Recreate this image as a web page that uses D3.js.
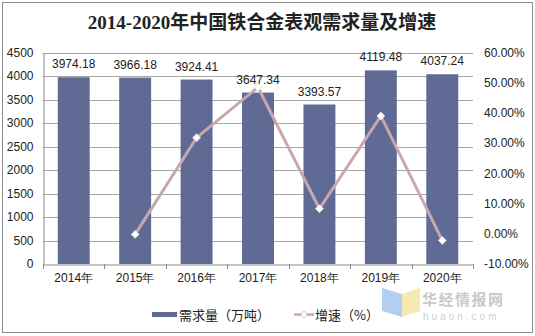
<!DOCTYPE html>
<html><head><meta charset="utf-8">
<script src="https://cdn.jsdelivr.net/npm/d3@7"></script>
<style>body{margin:0;background:#fff}svg{display:block}</style>
</head><body>
<script>
const years = ["2014年","2015年","2016年","2017年","2018年","2019年","2020年"];
const demand = [3974.18,3966.18,3924.41,3647.34,3393.57,4119.48,4037.24];
const growth = [null,-0.2,31.8,48.5,8.3,39.0,-2.2];
const leftTicks = [0,500,1000,1500,2000,2500,3000,3500,4000,4500];
const rightTicks = [-10,0,10,20,30,40,50,60];
const title = "2014-2020年中国铁合金表观需求量及增速";
const legendLabels = ["需求量（万吨）","增速（%）"];

const W=535,H=336;
const svg=d3.select("body").append("svg").attr("width",W).attr("height",H);
svg.append("rect").attr("x",2.5).attr("y",2.5).attr("width",530).attr("height",330)
  .attr("fill","#fff").attr("stroke","#8c8c8c").attr("stroke-width",1);

const x0=43,x1=473,yTop=52.5,yBot=264;
const x=d3.scaleBand().domain(years).range([x0,x1]).paddingInner(0.48).paddingOuter(0.24);
const xb=d3.scaleBand().domain(years).range([x0,x1]);
const yL=d3.scaleLinear().domain([0,4500]).range([yBot,yTop]);
const yR=d3.scaleLinear().domain([-10,60]).range([yBot,yTop]);

// gridlines
svg.append("g").selectAll("line").data(leftTicks.filter(d=>d>0)).join("line")
  .attr("x1",x0).attr("x2",x1).attr("y1",d=>Math.round(yL(d))+0.5).attr("y2",d=>Math.round(yL(d))+0.5)
  .attr("stroke","#a6a6a6").attr("stroke-width",1);

// left axis
const font="'Liberation Sans',Arial,sans-serif";
const ga=svg.append("g").attr("transform",`translate(${x0+0.5},0)`)
  .call(d3.axisLeft(yL).tickValues(leftTicks).tickSize(0).tickPadding(10).tickFormat(d3.format("d")));
ga.select(".domain").attr("stroke","#8c8c8c");
ga.selectAll("text").attr("font-family",font).attr("font-size",12).attr("fill","#222");

// right axis labels
const gr=svg.append("g").attr("transform",`translate(${x1},0)`)
  .call(d3.axisRight(yR).tickValues(rightTicks).tickSize(0).tickPadding(11).tickFormat(d=>d.toFixed(2)+"%"));
gr.select(".domain").remove();
gr.selectAll("text").attr("font-family",font).attr("font-size",12).attr("fill","#222");

// bars
svg.append("g").selectAll("rect").data(demand).join("rect")
  .attr("x",(d,i)=>x(years[i])).attr("width",x.bandwidth())
  .attr("y",d=>yL(d)).attr("height",d=>yL(0)-yL(d)).attr("fill","#5f6b95");

// bottom axis
const gb=svg.append("g").attr("transform",`translate(0,${yBot+0.5})`)
  .call(d3.axisBottom(xb).tickSize(0).tickPadding(9));
gb.select(".domain").attr("stroke","#8c8c8c");
gb.selectAll("text").attr("font-family",font).attr("font-size",12).attr("fill","#222");
svg.append("g").selectAll("line").data(d3.range(years.length+1)).join("line")
  .attr("x1",i=>Math.round(x0+i*xb.step())+0.5).attr("x2",i=>Math.round(x0+i*xb.step())+0.5)
  .attr("y1",yBot).attr("y2",yBot+5).attr("stroke","#8c8c8c");

// bar labels
svg.append("g").selectAll("text").data(demand).join("text")
  .attr("x",(d,i)=>x(years[i])+x.bandwidth()/2).attr("y",d=>yL(d)-9)
  .attr("text-anchor","middle").attr("font-family",font).attr("font-size",12).attr("fill","#222")
  .text(d=>d.toFixed(2));

// growth line
const pts=growth.map((g,i)=>({g,i})).filter(d=>d.g!==null);
const line=d3.line().x(d=>xb(years[d.i])+xb.bandwidth()/2).y(d=>yR(d.g));
svg.append("path").datum(pts).attr("d",line).attr("fill","none")
  .attr("stroke","#c8a8ad").attr("stroke-width",3);
svg.append("g").selectAll("path").data(pts).join("path")
  .attr("d",d3.symbol(d3.symbolDiamond2,40))
  .attr("transform",d=>`translate(${xb(years[d.i])+xb.bandwidth()/2},${yR(d.g)})`)
  .attr("fill","#fff").attr("stroke","#e8dadc").attr("stroke-width",0.8);

// title
svg.append("text").attr("x",262).attr("y",29).attr("text-anchor","middle")
  .attr("font-family","'Liberation Serif','Noto Sans CJK SC',serif").attr("font-weight","bold")
  .attr("font-size",19).attr("fill","#222").text(title);

// legend
const cjk="'Noto Sans CJK SC',sans-serif";
svg.append("rect").attr("x",152).attr("y",312).attr("width",25).attr("height",5).attr("fill","#5f6b95");
svg.append("text").attr("x",179).attr("y",320).attr("font-family",cjk).attr("font-size",13).attr("fill","#222").text(legendLabels[0]);
svg.append("line").attr("x1",294).attr("x2",314).attr("y1",314.5).attr("y2",314.5).attr("stroke","#c8a8ad").attr("stroke-width",2.5);
svg.append("path").attr("d",d3.symbol(d3.symbolDiamond2,30)).attr("transform","translate(304,314.5)")
  .attr("fill","#fff").attr("stroke","#c8a8ad").attr("stroke-width",0.8);
svg.append("text").attr("x",315).attr("y",320).attr("font-family",cjk).attr("font-size",13).attr("fill","#222").text(legendLabels[1]);

// watermark
svg.append("path").attr("d","M382,288 L402,294 L402,317 L382,311 Z").attr("fill","#9cc3ee").attr("opacity",0.8);
svg.append("path").attr("d","M402,294 L420,288 L420,311 L402,317 Z").attr("fill","#f6e3a0").attr("opacity",0.8);
svg.append("text").attr("x",422).attr("y",305).attr("font-family",cjk).attr("font-weight","bold").attr("font-size",15)
  .attr("letter-spacing",1.5).attr("fill","#c9c9c9").text("华经情报网");
svg.append("text").attr("x",423).attr("y",320).attr("font-family",font).attr("font-size",10)
  .attr("letter-spacing",3).attr("fill","#cfcfcf").text("huaon.com");
</script>
</body></html>
